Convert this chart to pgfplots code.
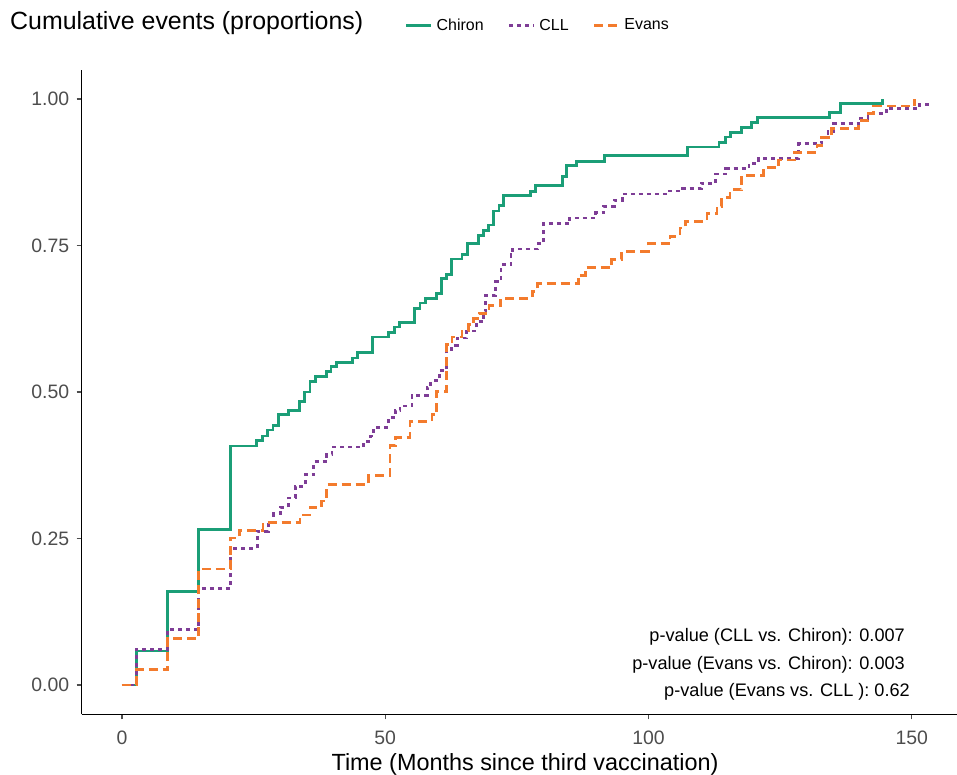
\documentclass[border=0pt]{standalone}
\usepackage{fontspec}
\setmainfont{Liberation Sans}
\usepackage{pgfplots}
\pgfplotsset{compat=1.18}
\definecolor{chiron}{HTML}{1B9E77}
\definecolor{cll}{HTML}{7E3D96}
\definecolor{evans}{HTML}{F37B2D}
\definecolor{tickgray}{HTML}{4D4D4D}
\begin{document}
\begin{tikzpicture}
\useasboundingbox (0,0) rectangle (957bp,775bp);
\begin{axis}[
  scale only axis, width=875.3bp, height=644.6bp,
  at={(81.7bp,60.7bp)}, anchor=south west,
  xmin=-7.65, xmax=158.6, ymin=-0.05, ymax=1.05,
  axis x line*=bottom, axis y line*=left,
  axis line style={-, black, line width=1.1bp},
  xtick={0,50,100,150}, ytick={0,0.25,0.5,0.75,1},
  yticklabels={0.00,0.25,0.50,0.75,1.00},
  xticklabels={0,50,100,150},
  tick align=outside, major tick length=5bp,
  tick style={tickgray, line width=1.1bp},
  tick label style={font=\fontsize{19.5}{23}\selectfont, text=tickgray},
  xticklabel style={yshift=-8bp},
  yticklabel style={xshift=-4bp},
  /pgf/number format/assume math mode=true,
  legend columns=3,
  legend style={at={(0.369,1.069)}, anchor=west, draw=none, fill=none,
    font=\fontsize{16}{19}\selectfont, inner sep=0pt,
    nodes={inner xsep=4bp},
    /tikz/every even column/.append style={column sep=20bp}},
  legend image code/.code={\draw[#1] (0bp,0bp) -- (25bp,0bp);},
]
\addplot[const plot, chiron, line width=2.8bp] coordinates {
(0,0) (2.7,0.058) (8.7,0.160) (14.6,0.266) (20.6,0.408) (25.5,0.417)
(26.7,0.425) (27.7,0.435) (28.7,0.443) (29.7,0.461) (31.7,0.468)
(33.7,0.484) (34.6,0.500) (35.7,0.518) (36.7,0.527) (38.8,0.535)
(39.7,0.544) (40.8,0.551) (43.8,0.558) (44.8,0.568) (47.6,0.594)
(50.6,0.602) (51.7,0.611) (52.7,0.619) (55.6,0.642) (56.6,0.652)
(57.7,0.660) (59.7,0.668) (60.7,0.693) (61.7,0.701) (62.6,0.727)
(64.6,0.735) (65.7,0.753) (67.7,0.767) (68.6,0.776) (69.6,0.785)
(70.6,0.809) (71.6,0.818) (72.5,0.835) (77.6,0.842) (78.5,0.852)
(83.6,0.868) (84.5,0.886) (86.4,0.894) (91.6,0.903) (107.4,0.918)
(113.4,0.926) (114.6,0.935) (115.6,0.943) (117.6,0.952) (119.6,0.960)
(120.7,0.969) (134.4,0.977) (136.5,0.992) (144.5,1.0)
};
\addlegendentry{Chiron}
\addplot[const plot, cll, line width=2.8bp, dash pattern=on 4bp off 4bp] coordinates {
(0,0) (2.7,0.061) (8.7,0.095) (14.6,0.164) (20.6,0.233) (25.7,0.262)
(27.8,0.277) (28.8,0.292) (30.1,0.303) (31.6,0.319) (32.9,0.339)
(34.8,0.359) (36.4,0.381) (38.9,0.393) (39.9,0.406) (45.9,0.416)
(47.2,0.425) (47.8,0.440) (50.6,0.456) (51.9,0.468) (52.8,0.476)
(55.1,0.494) (58.0,0.508) (58.6,0.519) (60.3,0.536) (61.6,0.570)
(62.6,0.580) (63.7,0.592) (65.5,0.604) (67.3,0.620) (68.7,0.637)
(69.1,0.665) (71.0,0.688) (72.0,0.717) (73.9,0.734) (74.2,0.744)
(79.0,0.753) (80.0,0.787) (85.0,0.797) (90.0,0.806) (91.5,0.817)
(93.5,0.827) (95.0,0.838) (103.3,0.843) (106.4,0.847) (110.0,0.856)
(112.8,0.872) (114.7,0.881) (119.1,0.890) (120.9,0.899) (128.5,0.924)
(132.9,0.934) (134.1,0.944) (135.2,0.958) (139.9,0.967) (141.7,0.975)
(145.2,0.984) (151.5,0.991) (153.0,1.0)
};
\addlegendentry{CLL}
\addplot[const plot, evans, line width=2.8bp, dash pattern=on 9bp off 5bp] coordinates {
(0,0) (2.7,0.026) (8.7,0.080) (14.6,0.198) (20.6,0.251) (22.3,0.264)
(26.8,0.277) (33.8,0.290) (35.7,0.303) (37.9,0.314) (38.9,0.342)
(46.8,0.357) (50.9,0.409) (51.9,0.422) (54.7,0.450) (58.9,0.461)
(59.8,0.501) (61.7,0.581) (62.7,0.594) (64.6,0.604) (65.8,0.615)
(66.8,0.625) (67.8,0.634) (69.7,0.647) (71.9,0.660) (77.9,0.672)
(78.9,0.685) (86.7,0.699) (88.0,0.712) (93.0,0.726) (94.9,0.740)
(100.0,0.753) (104.1,0.766) (106.0,0.780) (107.0,0.791) (111.1,0.804)
(113.0,0.817) (113.9,0.832) (115.5,0.845) (117.7,0.870) (121.8,0.883)
(124.7,0.896) (127.8,0.909) (132.0,0.921) (132.9,0.934) (134.8,0.949)
(139.9,0.963) (141.7,0.975) (142.7,0.988) (150.6,1.0)
};
\addlegendentry{Evans}
\end{axis}
\node[anchor=west, inner sep=0pt, font=\fontsize{25}{30}\selectfont] at (10bp,752bp) {Cumulative events (proportions)};
\node[inner sep=0pt, font=\fontsize{23.5}{28}\selectfont] at (525bp,11bp) {Time (Months since third vaccination)};
\node[anchor=east, inner sep=0pt, font=\fontsize{18.2}{22}\selectfont] at (905bp,138.3bp) {p-value (CLL vs. Chiron): 0.007};
\node[anchor=east, inner sep=0pt, font=\fontsize{18.2}{22}\selectfont] at (905bp,110bp) {p-value (Evans vs. Chiron): 0.003};
\node[anchor=east, inner sep=0pt, font=\fontsize{18.2}{22}\selectfont] at (910bp,83.3bp) {p-value (Evans vs. CLL ): 0.62};
\end{tikzpicture}
\end{document}
